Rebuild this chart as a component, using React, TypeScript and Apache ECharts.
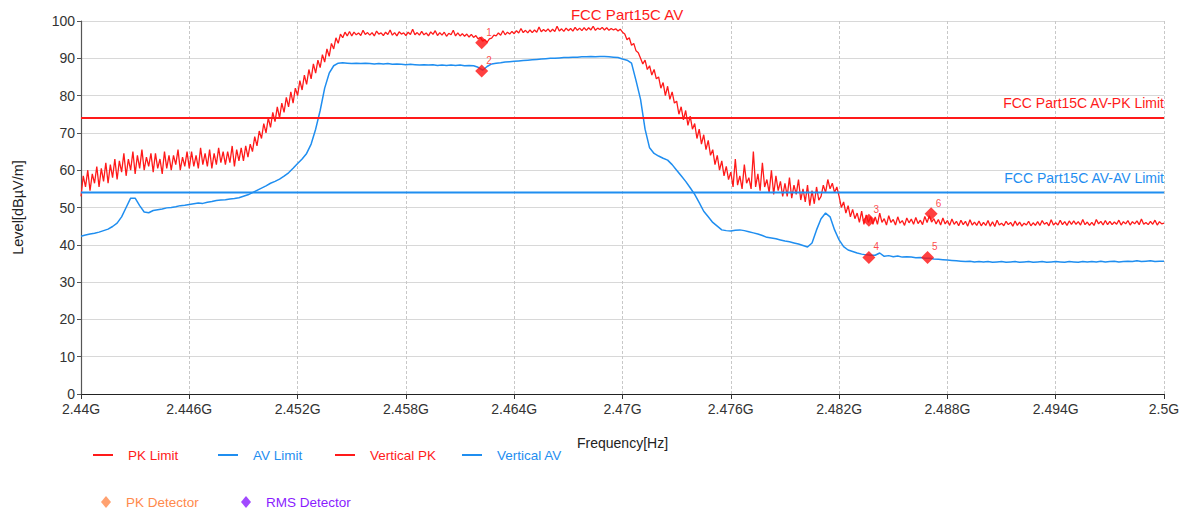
import React, { useEffect, useRef } from "react";
import * as echarts from "echarts";

// ---------- data ----------
const START_MHZ = 2440;
const STOP_MHZ = 2500;
const PK_STEP_MHZ = 0.125;
const AV_STEP_MHZ = 0.25;
const TICK_MHZ = 6;
const Y_MIN = 0;
const Y_MAX = 100;
const Y_STEP = 10;

const titleText = "FCC Part15C AV";
const xName = "Frequency[Hz]";
const yName = "Level[dBµV/m]";

const pkLimitLevel = 74;
const avLimitLevel = 54;
const pkLimitText = "FCC Part15C AV-PK Limit";
const avLimitText = "FCC Part15C AV-AV Limit";

// Vertical PK trace, every 0.125 MHz from 2440 to 2500 MHz (one row per MHz)
const pkLevels = [
  53, 58.5, 55.5, 60, 54.5, 59, 56.5, 61,
  55.5, 60.5, 57, 62, 56.5, 61.5, 58, 63,
  57.5, 62.5, 59.5, 64.5, 58.5, 63, 60, 65,
  59, 64, 60.5, 65.5, 60, 63.5, 61, 64.5,
  59.5, 64.5, 60.5, 63, 59, 65, 60.5, 64,
  60, 64, 61.5, 65.5, 60, 63.5, 61, 65,
  60.5, 65, 61, 64, 60.5, 66, 61.5, 64.5,
  61, 65.5, 60.5, 64.5, 61.5, 66, 62, 65,
  61.5, 65, 62, 66.5, 61, 65.5, 62.5, 66,
  62.5, 66.5, 63.5, 67, 65, 69, 66.5, 70.5,
  68.5, 72.5, 70, 74, 71.5, 75.5, 73, 77,
  74, 78, 75.5, 79.5, 77, 81, 78, 82,
  80, 84, 81.5, 85.5, 83, 87, 84.5, 88.5,
  86, 89.5, 87.5, 91, 89, 92.5, 90.5, 94,
  92.5, 95.5, 94, 96.5, 95.5, 97, 96, 97.2,
  96, 97, 96.3, 96.8, 96.1, 97.5, 96.4, 96.9,
  96.2, 96.9, 96, 97.3, 96.5, 96.8, 96.1, 97,
  96.4, 97.6, 96.2, 96.9, 96, 97.1, 96.5, 96.8,
  96.1, 97, 96.4, 97.8, 96.3, 96.9, 96.2, 97.2,
  96.3, 96.8, 96, 97.1, 96.4, 97.4, 96.1, 96.9,
  96.2, 97, 95.9, 96.7, 96.3, 97.5, 96, 96.8,
  96, 96.6, 95.9, 96.5, 95.7, 96.4, 95.6, 96.1,
  95.2, 95.6, 94.6, 95, 94.3, 95.2, 95.4, 96.2,
  96, 96.8, 96.2, 97.4, 96.3, 97, 96.5, 97.2,
  96.6, 97.4, 96.8, 98, 96.9, 97.5, 96.8, 97.6,
  96.9, 97.6, 97, 98.4, 97.1, 97.7, 97.2, 97.9,
  97.1, 97.8, 97.2, 98.6, 97.3, 97.9, 97.2, 98.1,
  97.4, 98, 97.3, 98.3, 97.5, 98.1, 97.4, 98.2,
  97.5, 98.2, 97.6, 98.6, 97.5, 98.1, 97.7, 98.3,
  97.6, 98.2, 97.5, 98, 97.6, 97.9, 97.3, 97.8,
  97, 96.5, 95, 95.5, 93.5, 94, 92, 91.5,
  90, 88.5, 89.5, 87, 88, 85.5, 87, 84.5,
  85, 82, 83.5, 80, 82.5, 79, 81, 78,
  78.5, 75, 77, 73.5, 76, 72, 74.5, 71,
  72.5, 68.5, 71, 67, 69.5, 65.5, 68, 64,
  65.5, 61.5, 64, 60, 62.5, 58.5, 61, 57.5,
  59.5, 55.5, 63, 56, 58.5, 55, 61.5, 56.5,
  58, 55, 65, 55.5, 59, 54.5, 62, 55.5,
  57.5, 54, 60, 53.5, 58.5, 54.5, 57, 53,
  56.5, 53, 58, 52.5, 56, 53.5, 57.5, 52,
  55, 51.5, 56, 50.5, 54.5, 51, 55.5, 52,
  53, 56, 54, 57.5, 55, 56.5, 54, 55.5,
  53, 50, 51.5, 48.5, 50.5, 47.5, 49.5, 47,
  48.5, 46, 49, 45.5, 48, 46, 47.5, 45.5,
  47.5, 45.5, 48.5, 46, 47, 45.3, 47.8, 46,
  46.8, 45.3, 47.5, 45.8, 46.5, 45.2, 47.2, 45.9,
  46.9, 45.5, 47.3, 45.7, 46.6, 45.4, 47.6, 46,
  47.8, 46.1, 47, 45.6, 46.8, 45.3, 47.2, 45.6,
  46.5, 45.2, 46.9, 45.5, 46.3, 45.1, 46.6, 45.4,
  46.3, 45, 46.7, 45.3, 46.1, 45.2, 46.4, 45.1,
  46, 45.2, 46.5, 45, 46.2, 44.9, 46.6, 45.3,
  45.8, 45.1, 46.3, 45.4, 46, 45, 46.4, 45.2,
  46.1, 45, 45.8, 45.3, 46.3, 45.1, 45.9, 45.2,
  46.2, 45.2, 46.5, 45.5, 46, 45.1, 46.7, 45.3,
  45.9, 45.3, 46.6, 45.4, 46.2, 45.2, 46.4, 45.5,
  46.4, 45.5, 46.2, 45.3, 46.8, 45.4, 46.1, 45.2,
  46, 45.2, 46.8, 45.6, 46.3, 45.3, 46.5, 45.4,
  46.3, 45.4, 46.1, 45.5, 46.6, 45.3, 46.2, 45.6,
  46.5, 45.3, 46.2, 45.6, 46.4, 45.4, 46.9, 45.5,
  46, 45.4, 46.3, 45.5, 46.6, 45.3, 46.2, 45.6,
  45.8,
];

// Vertical AV trace, every 0.25 MHz from 2440 to 2500 MHz (one row per MHz)
const avLevels = [
  42.3, 42.6, 42.9, 43.1,
  43.4, 43.8, 44.2, 44.9,
  45.8, 47.5, 50, 52.5,
  52.5, 50.5, 48.8, 48.6,
  49.2, 49.4, 49.6, 49.9,
  50, 50.2, 50.5, 50.6,
  50.8, 51, 51.2, 51.1,
  51.4, 51.6, 51.9, 52,
  52.1, 52.3, 52.4, 52.6,
  53, 53.4, 54, 54.6,
  55.2, 55.8, 56.5, 57,
  57.6, 58.4, 59.3, 60.5,
  61.8, 63, 64.5, 67,
  71, 76, 82, 86,
  88, 88.7, 88.8, 88.7,
  88.6, 88.7, 88.6, 88.7,
  88.6, 88.5, 88.6, 88.5,
  88.6, 88.4, 88.5, 88.4,
  88.3, 88.4, 88.3, 88.2,
  88.3, 88.2, 88.3, 88.1,
  88.2, 88.1, 88.2, 88.1,
  88.2, 88, 88.1, 88,
  87.6, 86.8, 87.8, 88.5,
  88.7, 88.8, 89, 89.1,
  89.2, 89.3, 89.4, 89.5,
  89.6, 89.7, 89.8, 89.9,
  90, 90, 90.1, 90.2,
  90.2, 90.3, 90.3, 90.4,
  90.4, 90.5, 90.4, 90.5,
  90.5, 90.4, 90.3, 90.2,
  89.8, 89.5, 88.7, 84,
  79, 71, 66, 64.5,
  63.8, 63.2, 62.7, 61.5,
  60, 58.5, 57, 55.3,
  53.5, 51.3, 49, 47.5,
  46, 45, 44, 43.8,
  43.7, 43.9, 44, 43.8,
  43.5, 43.2, 42.9, 42.5,
  42, 41.8, 41.6, 41.3,
  41, 40.8, 40.5, 40.2,
  39.8, 39.4, 40.5, 44,
  47, 48.5, 47.5, 44,
  41.3, 39.5, 38.6, 38.2,
  37.8, 37.5, 37.3, 37.2,
  37.2, 37.8, 36.9, 37.1,
  36.8, 37, 36.7, 36.8,
  36.7, 36.5, 36.6, 36.4,
  36.4, 36.2, 36.1, 36,
  35.9, 35.8, 35.7, 35.6,
  35.5, 35.6, 35.4, 35.5,
  35.4, 35.5, 35.3, 35.4,
  35.5, 35.3, 35.4, 35.5,
  35.3, 35.4, 35.5, 35.3,
  35.4, 35.5, 35.3, 35.4,
  35.5, 35.4, 35.3, 35.5,
  35.4, 35.3, 35.5, 35.4,
  35.5, 35.4, 35.6, 35.4,
  35.5, 35.6, 35.4, 35.5,
  35.6, 35.5, 35.7, 35.5,
  35.6, 35.7, 35.5, 35.6,
  35.6,
];

const markerNames = ["1", "2", "3", "4", "5", "6"];
const markerFreqs = [2462.2, 2462.2, 2483.65, 2483.65, 2486.9, 2487.1];
const markerLevels = [94.2, 86.6, 46.6, 36.6, 36.6, 48.3];

// ---------- styles ----------
const RED = "#ff1a1a";
const BLUE = "#1f8ef0";
const ORANGE = "#ff8a4c";
const PURPLE = "#8a1cff";
const FONT = "'Liberation Sans', Arial, sans-serif";

const off = (f: number) => f - START_MHZ;

export default function App() {
  const ref = useRef<HTMLDivElement>(null);

  useEffect(() => {
    if (!ref.current) return;
    const chart = echarts.init(ref.current, undefined, { renderer: "svg" });

    const pkData = pkLevels.map((v, i) => [i * PK_STEP_MHZ, v]);
    const avData = avLevels.map((v, i) => [i * AV_STEP_MHZ, v]);
    const span = STOP_MHZ - START_MHZ;

    const limitMark = (text: string, level: number, color: string) => ({
      symbol: "circle",
      symbolSize: 1,
      silent: true,
      itemStyle: { color: "transparent" },
      data: [
        {
          coord: [span, level],
          label: {
            show: true,
            formatter: text,
            position: "top",
            align: "right",
            distance: 7,
            color,
            fontSize: 14,
            fontFamily: FONT,
          },
        },
      ],
    });

    const lineLegend = (name: string, color: string, left: number) => ({
      data: [{ name, icon: "rect" }],
      left,
      top: 448,
      padding: 0,
      itemWidth: 20,
      itemHeight: 2,
      selectedMode: false,
      textStyle: { color, fontSize: 13.5, fontFamily: FONT, padding: [0, 0, 0, 10] },
    });
    const dotLegend = (name: string, color: string, left: number) => ({
      data: [{ name, icon: "diamond" }],
      left,
      top: 495,
      padding: 0,
      itemWidth: 10,
      itemHeight: 12,
      selectedMode: false,
      textStyle: { color, fontSize: 13.5, fontFamily: FONT, padding: [0, 0, 0, 10] },
    });

    chart.setOption({
      animation: false,
      backgroundColor: "#ffffff",
      textStyle: { fontFamily: FONT },
      title: {
        text: titleText,
        left: 622,
        textAlign: "center",
        top: 2,
        textStyle: { color: RED, fontSize: 15, fontWeight: "normal", fontFamily: FONT },
      },
      legend: [
        lineLegend("PK Limit", RED, 93),
        lineLegend("AV Limit", BLUE, 218),
        lineLegend("Vertical PK", RED, 335),
        lineLegend("Vertical AV", BLUE, 462),
        dotLegend("PK Detector", ORANGE, 101),
        dotLegend("RMS Detector", PURPLE, 241),
      ],
      grid: { left: 81, right: 20, top: 21, bottom: 120, containLabel: false },
      xAxis: {
        type: "value",
        min: 0,
        max: span,
        interval: TICK_MHZ,
        name: xName,
        nameLocation: "middle",
        nameGap: 42,
        nameTextStyle: { color: "#222", fontSize: 14, fontFamily: FONT },
        axisLine: { show: true, lineStyle: { color: "#222", width: 1.2 } },
        axisTick: { show: true, inside: false, length: 5, lineStyle: { color: "#333" } },
        axisLabel: {
          color: "#333",
          fontSize: 14,
          margin: 8,
          fontFamily: FONT,
          formatter: (v: number) => `${+((START_MHZ + v) / 1000).toFixed(3)}G`,
        },
        splitLine: { show: true, lineStyle: { color: "#c8c8c8", type: [3, 2], width: 1 } },
      },
      yAxis: {
        type: "value",
        min: Y_MIN,
        max: Y_MAX,
        interval: Y_STEP,
        name: yName,
        nameLocation: "middle",
        nameRotate: 90,
        nameGap: 56,
        nameTextStyle: { color: "#222", fontSize: 14.5, fontFamily: FONT },
        axisLine: { show: true, lineStyle: { color: "#555", width: 1.2 } },
        axisTick: { show: true, inside: false, length: 4, lineStyle: { color: "#555" } },
        axisLabel: { color: "#333", fontSize: 14, margin: 6, fontFamily: FONT },
        splitLine: { show: true, lineStyle: { color: "#d8d8d8", width: 1 } },
      },
      series: [
        {
          name: "Vertical AV",
          type: "line",
          data: avData,
          showSymbol: false,
          symbol: "none",
          lineStyle: { color: BLUE, width: 1.5 },
          itemStyle: { color: BLUE },
          z: 2,
        },
        {
          name: "Vertical PK",
          type: "line",
          data: pkData,
          showSymbol: false,
          symbol: "none",
          lineStyle: { color: RED, width: 1.3 },
          itemStyle: { color: RED },
          z: 3,
        },
        {
          name: "PK Limit",
          type: "line",
          data: [
            [0, pkLimitLevel],
            [span, pkLimitLevel],
          ],
          showSymbol: false,
          symbol: "none",
          lineStyle: { color: RED, width: 2 },
          itemStyle: { color: RED },
          markPoint: limitMark(pkLimitText, pkLimitLevel, RED),
          z: 4,
        },
        {
          name: "AV Limit",
          type: "line",
          data: [
            [0, avLimitLevel],
            [span, avLimitLevel],
          ],
          showSymbol: false,
          symbol: "none",
          lineStyle: { color: BLUE, width: 2 },
          itemStyle: { color: BLUE },
          markPoint: limitMark(avLimitText, avLimitLevel, BLUE),
          z: 4,
        },
        {
          name: "Markers",
          type: "scatter",
          symbol: "diamond",
          symbolSize: 13,
          itemStyle: { color: "#ff1010" },
          label: {
            show: true,
            formatter: (p: any) => p.name,
            position: [11, -9],
            color: RED,
            fontSize: 10,
            fontFamily: FONT,
          },
          data: markerNames.map((n, i) => ({
            name: n,
            value: [off(markerFreqs[i]), markerLevels[i]],
          })),
          z: 6,
        },
        {
          name: "PK Detector",
          type: "scatter",
          symbol: "diamond",
          itemStyle: { color: ORANGE },
          data: [],
        },
        {
          name: "RMS Detector",
          type: "scatter",
          symbol: "diamond",
          itemStyle: { color: PURPLE },
          data: [],
        },
      ],
    });

    return () => chart.dispose();
  }, []);

  return (
    <div
      ref={ref}
      style={{ position: "fixed", left: 0, top: 0, width: 1184, height: 514, background: "#fff" }}
    />
  );
}
